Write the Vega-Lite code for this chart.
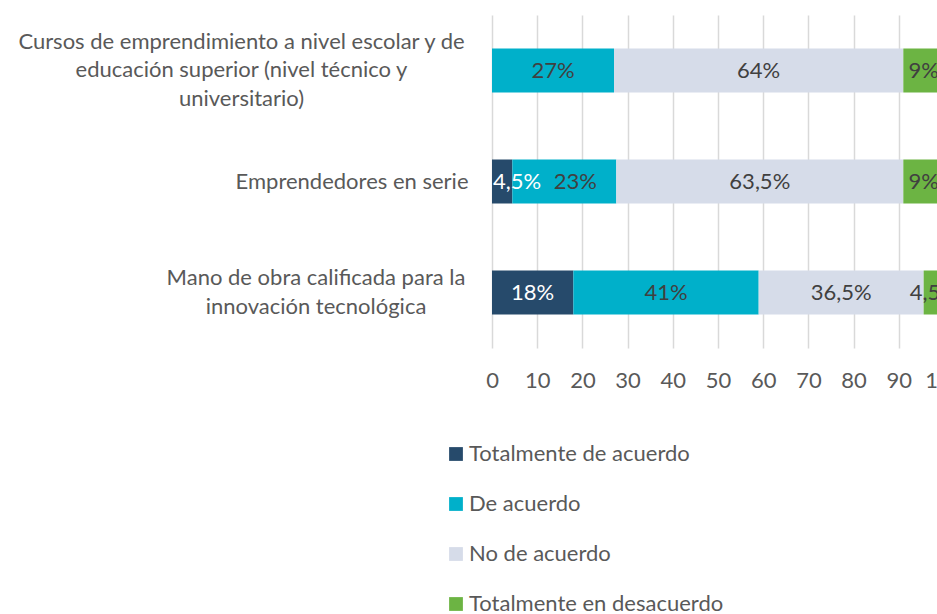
{
  "$schema": "https://vega.github.io/schema/vega-lite/v6.json",
  "autosize": {"type": "none"},
  "padding": {"left": 492, "top": 15, "right": 0, "bottom": 270},
  "width": 452,
  "height": 333,
  "background": "white",
  "data": {"values": [
    {"cat": "Cursos de emprendimiento a nivel escolar y de educación superior (nivel técnico y universitario)", "serie": "De acuerdo", "k": 2, "v": 27},
    {"cat": "Cursos de emprendimiento a nivel escolar y de educación superior (nivel técnico y universitario)", "serie": "No de acuerdo", "k": 3, "v": 64},
    {"cat": "Cursos de emprendimiento a nivel escolar y de educación superior (nivel técnico y universitario)", "serie": "Totalmente en desacuerdo", "k": 4, "v": 9},
    {"cat": "Emprendedores en serie", "serie": "Totalmente de acuerdo", "k": 1, "v": 4.5},
    {"cat": "Emprendedores en serie", "serie": "De acuerdo", "k": 2, "v": 23},
    {"cat": "Emprendedores en serie", "serie": "No de acuerdo", "k": 3, "v": 63.5},
    {"cat": "Emprendedores en serie", "serie": "Totalmente en desacuerdo", "k": 4, "v": 9},
    {"cat": "Mano de obra calificada para la innovación tecnológica", "serie": "Totalmente de acuerdo", "k": 1, "v": 18},
    {"cat": "Mano de obra calificada para la innovación tecnológica", "serie": "De acuerdo", "k": 2, "v": 41},
    {"cat": "Mano de obra calificada para la innovación tecnológica", "serie": "No de acuerdo", "k": 3, "v": 36.5},
    {"cat": "Mano de obra calificada para la innovación tecnológica", "serie": "Totalmente en desacuerdo", "k": 4, "v": 4.5}
  ]},
  "transform": [
    {"stack": "v", "groupby": ["cat"], "sort": [{"field": "k", "order": "ascending"}], "as": ["x0", "x1"]},
    {"calculate": "(datum.x0 + datum.x1) / 2", "as": "mid"},
    {"calculate": "replace(format(datum.v, '.1~f'), '.', ',') + '%'", "as": "lbl"}
  ],
  "encoding": {
    "y": {
      "field": "cat", "type": "nominal",
      "sort": ["Cursos de emprendimiento a nivel escolar y de educación superior (nivel técnico y universitario)", "Emprendedores en serie", "Mano de obra calificada para la innovación tecnológica"],
      "scale": {"paddingInner": 0.604, "paddingOuter": 0.302},
      "axis": {
        "title": null, "domain": false, "ticks": false, "tickSize": 0, "grid": false,
        "labelFont": "Lato", "labelFontSize": 22, "labelColor": "#595959", "labelLineHeight": 28.5,
        "labelBaseline": "middle", "labelLimit": 600,
        "labelExpr": "indexof(datum.value, 'Cursos') == 0 ? ['Cursos de emprendimiento a nivel escolar y de', 'educación superior (nivel técnico y', 'universitario)'] : indexof(datum.value, 'Mano') == 0 ? ['Mano de obra calificada para la', 'innovación tecnológica'] : datum.value",
        "labelAlign": {"condition": {"test": "datum.value == 'Emprendedores en serie'", "value": "right"}, "value": "center"},
        "labelOffset": {"condition": [
          {"test": "indexof(datum.value, 'Cursos') == 0", "value": -29},
          {"test": "indexof(datum.value, 'Mano') == 0", "value": -14.5}
        ], "value": 0},
        "labelPadding": {"condition": [
          {"test": "indexof(datum.value, 'Cursos') == 0", "value": 251},
          {"test": "datum.value == 'Emprendedores en serie'", "value": 24}
        ], "value": 176.5}
      }
    }
  },
  "layer": [
    {
      "mark": {"type": "bar"},
      "encoding": {
        "x": {
          "field": "x0", "type": "quantitative",
          "scale": {"domain": [0, 100], "nice": false},
          "axis": {
            "title": null, "values": [0, 10, 20, 30, 40, 50, 60, 70, 80, 90, 100],
            "domain": false, "ticks": false, "tickSize": 0,
            "grid": true, "gridColor": "#D9D9D9", "gridWidth": 1.5,
            "labelFont": "Lato", "labelFontSize": 22, "labelColor": "#595959", "labelPadding": 22,
            "labelFlush": false, "labelOverlap": false
          }
        },
        "x2": {"field": "x1"},
        "color": {
          "field": "serie", "type": "nominal",
          "scale": {
            "domain": ["Totalmente de acuerdo", "De acuerdo", "No de acuerdo", "Totalmente en desacuerdo"],
            "range": ["#264A6B", "#00B0CA", "#D6DCE9", "#6CB443"]
          },
          "legend": {
            "title": null, "orient": "none", "direction": "vertical",
            "legendX": -47, "legendY": 428,
            "symbolType": "square", "symbolSize": 190, "symbolStrokeWidth": 0,
            "labelFont": "Lato", "labelFontSize": 22, "labelColor": "#595959",
            "labelOffset": 2, "rowPadding": 28, "labelLimit": 400
          }
        }
      }
    },
    {
      "transform": [{"filter": "!(datum.cat == 'Emprendedores en serie' && datum.k <= 2)"}],
      "mark": {"type": "text", "font": "Lato", "fontSize": 22, "baseline": "middle", "align": "center"},
      "encoding": {
        "x": {"field": "mid", "type": "quantitative"},
        "text": {"field": "lbl"},
        "color": {"condition": {"test": "datum.k == 1", "value": "#FFFFFF"}, "value": "#404040"}
      }
    },
    {
      "transform": [{"filter": "datum.cat == 'Emprendedores en serie' && datum.k == 1"}],
      "mark": {"type": "text", "font": "Lato", "fontSize": 22, "baseline": "middle", "align": "center", "dx": 15, "color": "#FFFFFF"},
      "encoding": {
        "x": {"field": "mid", "type": "quantitative"},
        "text": {"field": "lbl"}
      }
    },
    {
      "transform": [{"filter": "datum.cat == 'Emprendedores en serie' && datum.k == 2"}],
      "mark": {"type": "text", "font": "Lato", "fontSize": 22, "baseline": "middle", "align": "center", "dx": 11, "color": "#404040"},
      "encoding": {
        "x": {"field": "mid", "type": "quantitative"},
        "text": {"field": "lbl"}
      }
    }
  ],
  "config": {"view": {"stroke": null}}
}
